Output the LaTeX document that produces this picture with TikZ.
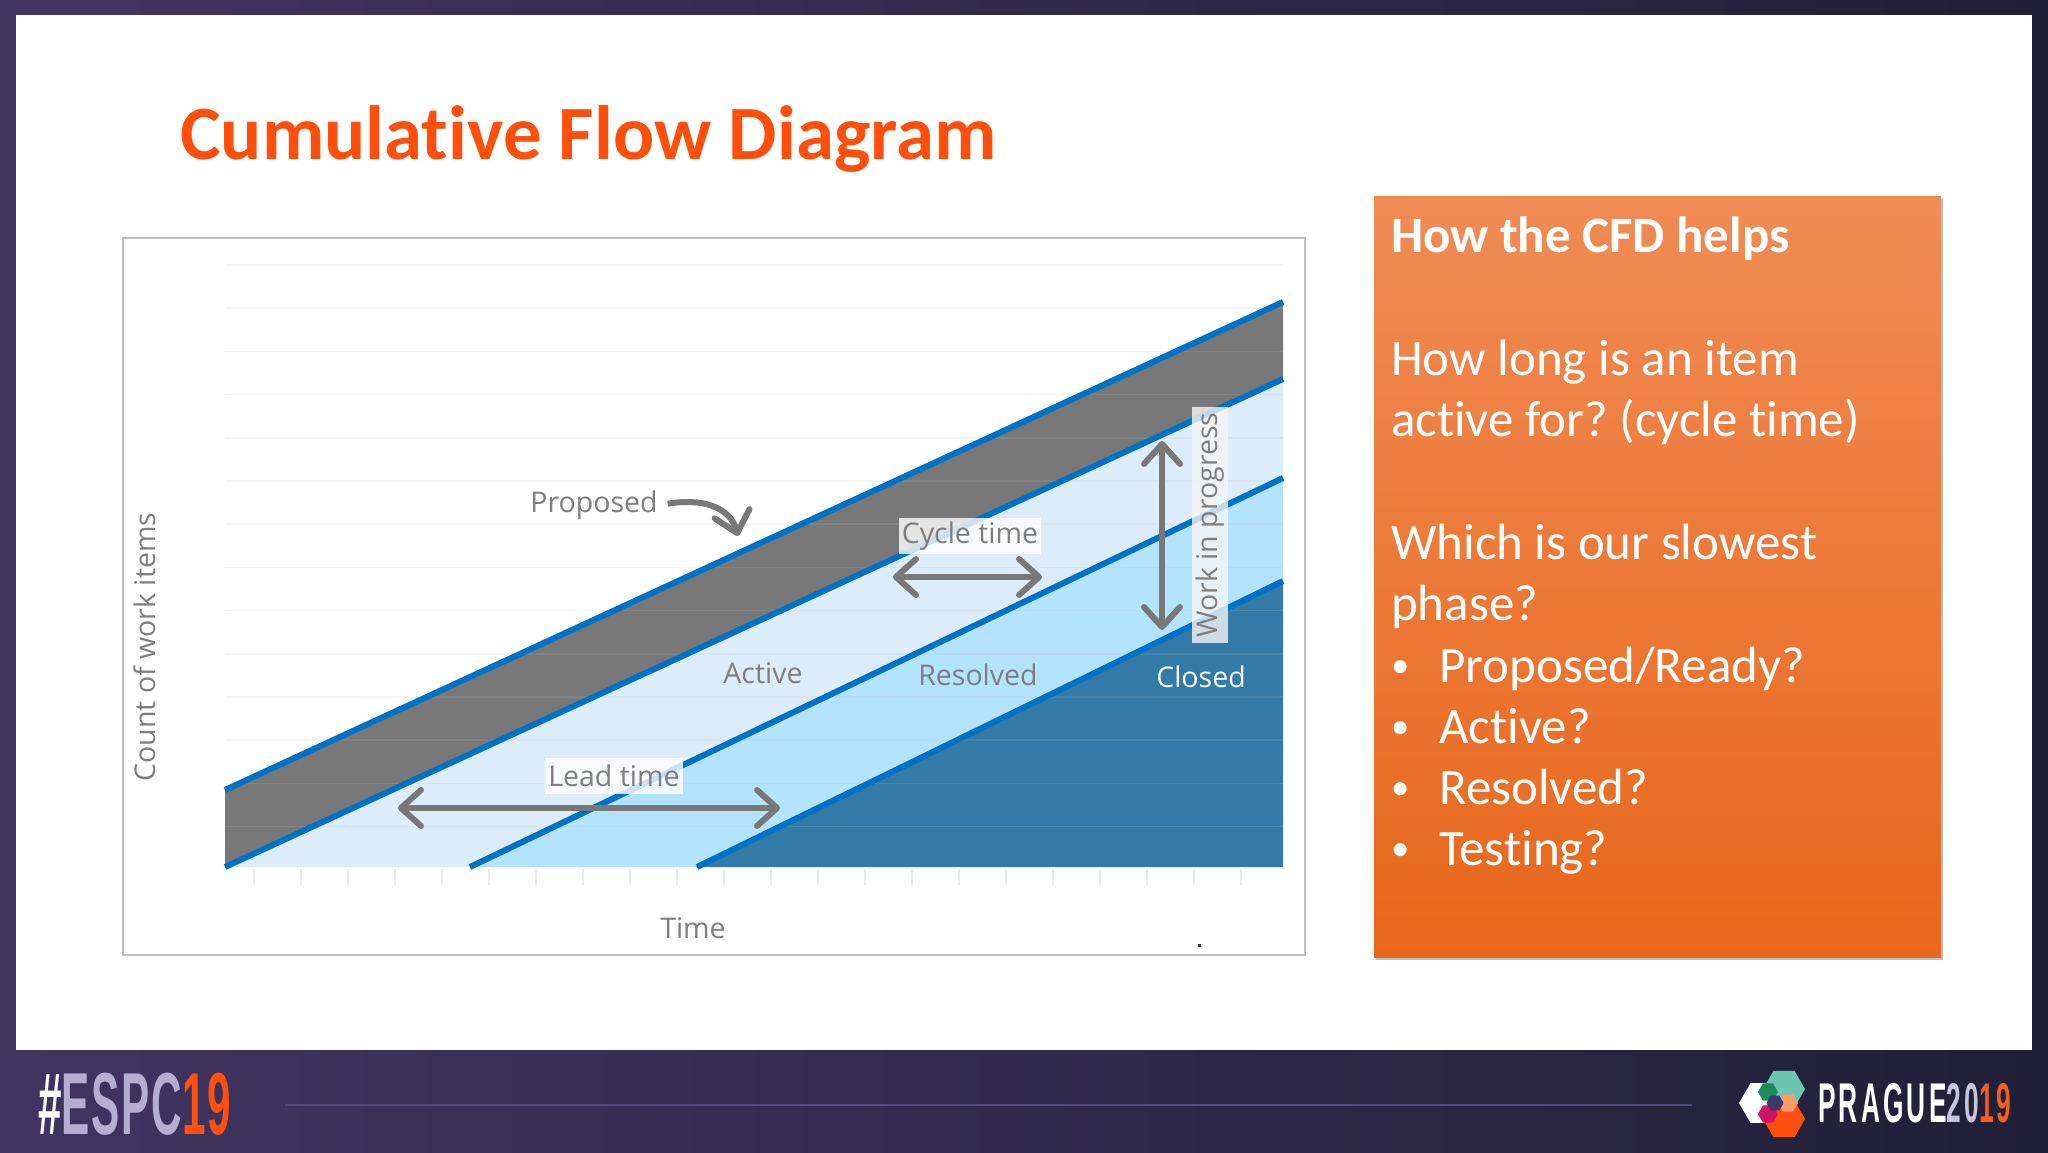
\documentclass[tikz,border=0pt]{standalone}
\usepackage{fontspec}
\setmainfont[Ligatures=NoCommon]{Carlito}
\newfontfamily\chartfont{Open Sans}
\newfontfamily\logofont{Liberation Sans}
\usepackage{tikz}
\usetikzlibrary{shapes.geometric,arrows.meta,shadows}
\definecolor{titleorange}{HTML}{FF4F0B}
\definecolor{seriesblue}{HTML}{0072C6}
\definecolor{labelgrey}{HTML}{7E7E7E}
\definecolor{arrowgrey}{HTML}{787878}
\definecolor{backleft}{HTML}{403561}
\definecolor{backright}{HTML}{211F37}
\definecolor{activefill}{HTML}{DCECFB}
\definecolor{resolvedfill}{HTML}{B3E3FF}
\definecolor{closedfill}{HTML}{337BA6}
\definecolor{boxtop}{HTML}{F18B54}
\definecolor{boxmid}{HTML}{F47B2C}
\definecolor{boxbottom}{HTML}{E8671B}
\definecolor{footline}{HTML}{544B7A}
\definecolor{hexteal}{HTML}{6CC5B0}
\definecolor{hexorange}{HTML}{FF5010}
\definecolor{hexpeach}{HTML}{FA9A6E}
\definecolor{hexgreen}{HTML}{1C8A5A}
\definecolor{hexpink}{HTML}{D0126A}
\definecolor{hexnavy}{HTML}{3A3A70}
\newcommand{\helpitem}{\makebox[48pt][l]{\raisebox{5pt}{\scalebox{.72}{\textbullet}}}}
\tikzstyle{chartlabel} = [text=labelgrey, font=\chartfont\fontsize{28.5}{33}\selectfont, inner sep=3pt]
\tikzstyle{tagbox} = [chartlabel, fill=white, fill opacity=.8, text opacity=1]
\tikzstyle{series} = [draw=seriesblue, line width=6pt]
\tikzstyle{line} = [draw=arrowgrey, line width=6pt, arrows={Straight Barb[length=20pt,width=36pt,round]-Straight Barb[length=20pt,width=36pt,round]}]
\tikzstyle{hexagon} = [regular polygon, regular polygon sides=6, inner sep=0pt, outer sep=0pt]

\begin{document}
\begin{tikzpicture}[x=1pt,y=-1pt]
\useasboundingbox (0,0) rectangle (2048,1152);
\fill [left color=backleft, right color=backright] (0,0) rectangle (2048,1152);
\fill [white] (16,15) rectangle (2032,1050);

\node [anchor=west, inner sep=0pt, text=titleorange, font=\bfseries\fontsize{76.8}{85}\selectfont] at (180,139) (title) {Cumulative Flow Diagram};

\draw [color=black!25, line width=2pt, fill=white] (123,238) rectangle (1305,955);
\fill [fill=arrowgrey] (225,790) -- (1283,302) -- (1283,379) -- (225,867) -- cycle;
\fill [fill=activefill] (225,867) -- (1283,379) -- (1283,478) -- (470,867) -- cycle;
\fill [fill=resolvedfill] (470,867) -- (1283,478) -- (1283,581) -- (697,867) -- cycle;
\fill [fill=closedfill] (697,867) -- (1283,581) -- (1283,867) -- cycle;
\foreach \y in {0,...,13}
  \draw [color=black!25, opacity=.17, line width=1.5pt] (225,265+43.2*\y) -- (1283,265+43.2*\y);
\foreach \x in {0,...,21}
  \draw [color=black!8, line width=2pt] (254+47*\x,869) -- (254+47*\x,885);
\draw [series] (225,790) -- (1283,302);
\draw [series] (225,867) -- (1283,379);
\draw [series] (470,867) -- (1283,478);
\draw [series] (697,867) -- (1283,581);

\node [chartlabel, rotate=90] at (145,647) (yaxis) {Count of work items};
\node [chartlabel] at (693,928) (xaxis) {Time};
\node [chartlabel] at (594,505) (proposed) {Proposed};
\node [chartlabel] at (763,673) (active) {Active};
\node [chartlabel] at (978,675) (resolved) {Resolved};
\node [chartlabel, text=white] at (1201,677) (closed) {Closed};
\node [tagbox, minimum width=141pt, minimum height=36pt] at (970,536) (cycle) {Cycle time};
\node [tagbox, minimum width=134pt, minimum height=36pt] at (614,776) (lead) {Lead time};
\node [tagbox, rotate=90, minimum width=236pt, minimum height=36pt, fill=black!4] at (1210,525) (wip) {Work in progress};

\coordinate (propEnd) at (738,536);
\coordinate (leadL) at (398,808);
\coordinate (leadR) at (780,808);
\coordinate (cycleL) at (893,577);
\coordinate (cycleR) at (1042,577);
\coordinate (wipT) at (1162,441);
\coordinate (wipB) at (1162,630);
\draw [line, shorten <=7pt, arrows={-Straight Barb[length=20pt,width=36pt,round]}] (proposed.east) .. controls (700,498) and (730,506) .. (propEnd);
\draw [line] (leadL) -- (leadR);
\draw [line] (cycleL) -- (cycleR);
\draw [line] (wipT) -- (wipB);

\node [inner sep=0pt, minimum size=3pt, fill=black!80] at (1199,945) (speck) {};

\node [anchor=north west, minimum width=567pt, minimum height=761pt, inner sep=0pt, top color=boxtop, middle color=boxmid, bottom color=boxbottom, drop shadow={shadow xshift=2pt, shadow yshift=-3pt, opacity=.5}] at (1374,196) (helpbox) {};
\node [anchor=north west, inner sep=0pt, text=white, text width=540pt, font=\fontsize{51}{61.3}\selectfont] at (1391,217) (helptext) {\spaceskip=0pt\xspaceskip=0pt\frenchspacing\textbf{How the CFD helps}\\[61.3pt]
How long is an item\\active for? (cycle time)\\[61.3pt]
Which is our slowest\\phase?\\
\helpitem Proposed/Ready?\\
\helpitem Active?\\
\helpitem Resolved?\\
\helpitem Testing?};

\node [anchor=west, inner sep=0pt, font=\logofont\bfseries\fontsize{88}{96}\selectfont\addfontfeature{LetterSpace=4.5}] at (38,1104) (hashtag) {\scalebox{.48}[1]{\textcolor{white}{\#}\textcolor[HTML]{B3AED2}{ESPC}\textcolor[HTML]{FF5010}{19}}};
\coordinate (footL) at (285,1105);
\coordinate (footR) at (1692,1105);
\draw [color=footline, line width=1.5pt] (footL) -- (footR);

\node [hexagon, fill=white, minimum size=46pt] at (1762,1103) (logowhite) {};
\node [hexagon, fill=hexteal, minimum size=42pt] at (1784,1089) (logoteal) {};
\node [hexagon, fill=hexorange, minimum size=42pt] at (1784,1119) (logoorange) {};
\node [hexagon, fill=hexpeach, minimum size=20pt] at (1788,1103) (logopeach) {};
\node [hexagon, fill=hexgreen, minimum size=20pt] at (1768,1092) (logogreen) {};
\node [hexagon, fill=hexpink, minimum size=20pt] at (1768,1114) (logopink) {};
\node [hexagon, fill=hexnavy, minimum size=17pt] at (1775,1103) (logonavy) {};
\node [anchor=west, inner sep=0pt, font=\logofont\bfseries\fontsize{56}{60}\selectfont\addfontfeature{LetterSpace=12}] at (1818,1103) (prague) {\scalebox{.47}[1]{\textcolor{white}{PRAGUE}\textcolor[HTML]{C6C4DC}{20}\textcolor[HTML]{F0601C}{19}}};
\end{tikzpicture}
\end{document}
